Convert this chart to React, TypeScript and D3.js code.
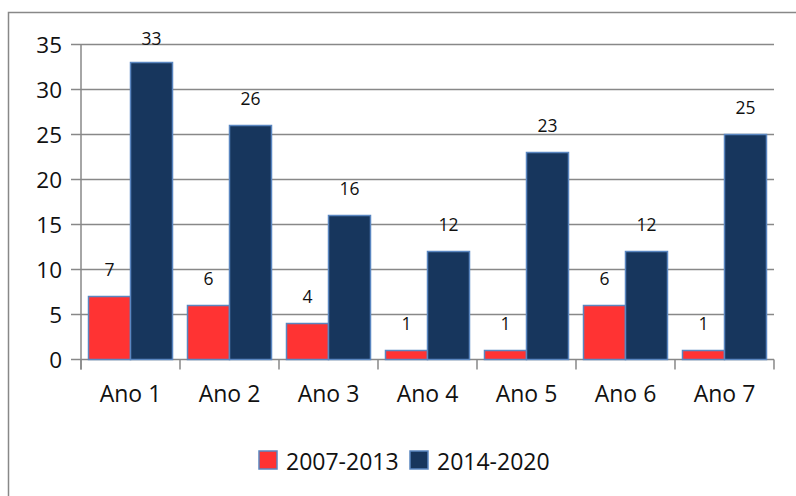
import React, { useEffect, useRef } from "react";
import * as d3 from "d3";

const categories = ["Ano 1", "Ano 2", "Ano 3", "Ano 4", "Ano 5", "Ano 6", "Ano 7"];
const seriesNames = ["2007-2013", "2014-2020"];
const values2007 = [7, 6, 4, 1, 1, 6, 1];
const values2014 = [33, 26, 16, 12, 23, 12, 25];
const yTicks = [0, 5, 10, 15, 20, 25, 30, 35];
const colors = ["#ff3333", "#17365d"];

const W = 796;
const H = 496;
const FONT = "'Open Sans', sans-serif";

const App = () => {
  const svgRef = useRef<SVGSVGElement>(null);

  useEffect(() => {
    if (!svgRef.current) return;
    const svg = d3.select(svgRef.current);
    svg.selectAll("*").remove();

    const left = 81;
    const right = 774;
    const top = 44.5;
    const bottom = 359.5;

    // outer frame, cut off on the right and bottom like the original
    svg
      .append("rect")
      .attr("x", 8.5)
      .attr("y", 12.5)
      .attr("width", 900)
      .attr("height", 600)
      .attr("fill", "#fff")
      .attr("stroke", "#888")
      .attr("stroke-width", 1.5);

    const x = d3
      .scaleBand<string>()
      .domain(categories)
      .range([left, right])
      .paddingInner(0.1515)
      .paddingOuter(0.0758);
    const xSub = d3
      .scaleBand<string>()
      .domain(seriesNames)
      .range([0, x.bandwidth()]);
    const y = d3.scaleLinear().domain([0, 35]).range([bottom, top]);

    // gridlines
    svg
      .append("g")
      .selectAll("line")
      .data(yTicks)
      .join("line")
      .attr("x1", left - 10)
      .attr("x2", right)
      .attr("y1", (d) => y(d))
      .attr("y2", (d) => y(d))
      .attr("stroke", "#888")
      .attr("stroke-width", 1.5);

    // y tick labels
    svg
      .append("g")
      .selectAll("text")
      .data(yTicks)
      .join("text")
      .attr("x", left - 19)
      .attr("y", (d) => y(d))
      .attr("dy", "0.36em")
      .attr("text-anchor", "end")
      .attr("font-family", FONT)
      .attr("font-size", 22.5)
      .attr("fill", "#111")
      .text((d) => d);

    // y axis line
    svg
      .append("line")
      .attr("x1", left)
      .attr("x2", left)
      .attr("y1", top)
      .attr("y2", bottom + 10)
      .attr("stroke", "#888")
      .attr("stroke-width", 1.5);

    // x tick marks at band boundaries
    const step = x.step();
    svg
      .append("g")
      .selectAll("line")
      .data(d3.range(categories.length + 1))
      .join("line")
      .attr("x1", (i) => left + i * step)
      .attr("x2", (i) => left + i * step)
      .attr("y1", bottom)
      .attr("y2", bottom + 10)
      .attr("stroke", "#888")
      .attr("stroke-width", 1.5);

    const rows = categories.map((c, i) => ({
      cat: c,
      vals: [values2007[i], values2014[i]],
    }));

    const groups = svg
      .append("g")
      .selectAll("g")
      .data(rows)
      .join("g")
      .attr("transform", (d) => `translate(${x(d.cat)},0)`);

    groups
      .selectAll("rect")
      .data((d) => d.vals.map((v, j) => ({ v, key: seriesNames[j], j })))
      .join("rect")
      .attr("x", (d) => xSub(d.key)!)
      .attr("y", (d) => y(d.v))
      .attr("width", xSub.bandwidth())
      .attr("height", (d) => bottom - y(d.v))
      .attr("fill", (d) => colors[d.j])
      .attr("stroke", "#5a86c0")
      .attr("stroke-width", 1.5);

    groups
      .selectAll("text")
      .data((d) => d.vals.map((v, j) => ({ v, key: seriesNames[j] })))
      .join("text")
      .attr("x", (d) => xSub(d.key)! + xSub.bandwidth() / 2)
      .attr("y", (d) => Math.max(y(d.v) - 21, 45))
      .attr("text-anchor", "middle")
      .attr("font-family", FONT)
      .attr("font-size", 17.5)
      .attr("fill", "#111")
      .text((d) => d.v);

    // x labels
    svg
      .append("g")
      .selectAll("text")
      .data(categories)
      .join("text")
      .attr("x", (d) => x(d)! + x.bandwidth() / 2)
      .attr("y", 402)
      .attr("text-anchor", "middle")
      .attr("font-family", FONT)
      .attr("font-size", 23)
      .attr("fill", "#111")
      .text((d) => d);

    // legend
    const legendX = [259, 410];
    const legend = svg
      .append("g")
      .selectAll("g")
      .data(seriesNames)
      .join("g")
      .attr("transform", (_d, i) => `translate(${legendX[i]},451)`);
    legend
      .append("rect")
      .attr("width", 18)
      .attr("height", 18)
      .attr("fill", (_d, i) => colors[i])
      .attr("stroke", "#5a86c0")
      .attr("stroke-width", 1.5);
    legend
      .append("text")
      .attr("x", 27)
      .attr("y", 18.5)
      .attr("font-family", FONT)
      .attr("font-size", 23)
      .attr("fill", "#111")
      .text((d) => d);
  }, []);

  return (
    <svg
      ref={svgRef}
      width={W}
      height={H}
      style={{ position: "absolute", left: 0, top: 0, background: "#fff" }}
    />
  );
};

export default App;
